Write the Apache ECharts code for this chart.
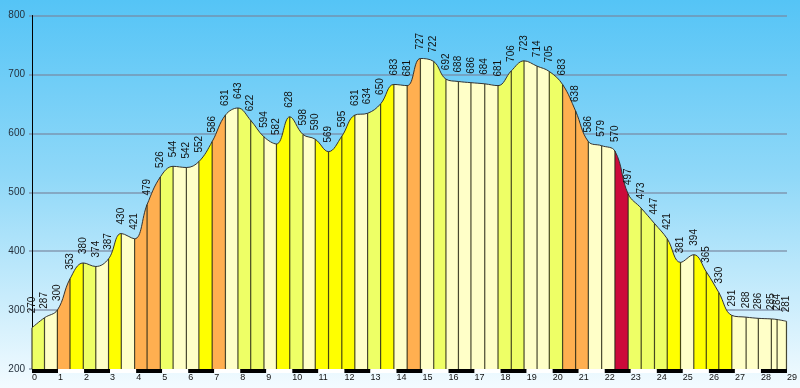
<!DOCTYPE html>
<html><head><meta charset="utf-8">
<script src="https://cdn.jsdelivr.net/npm/echarts@6/dist/echarts.min.js"></script>
<style>html,body{margin:0;padding:0;overflow:hidden;} #c{width:800px;height:388px;}</style>
</head><body><div id="c"></div>
<script>
// distance along the route (km) of each profile point
const distKm = [0,0.48,0.975,1.46,1.97,2.45,2.94,3.43,3.94,4.42,4.93,5.42,5.93,6.41,6.92,7.43,7.91,8.40,8.91,9.39,
  9.90,10.41,10.88,11.39,11.90,12.40,12.89,13.39,13.90,14.41,14.92,15.43,15.90,16.38,16.86,17.39,17.90,18.41,18.90,19.40,
  19.87,20.38,20.88,21.37,21.88,22.39,22.90,23.40,23.91,24.40,24.91,25.42,25.90,26.38,26.88,27.43,27.90,28.40,28.62,28.98];
// elevation (m) of each profile point
const elevation = [270,287,300,353,380,374,387,430,421,479,526,544,542,552,586,631,643,622,594,582,
  628,598,590,569,595,631,634,650,683,681,727,722,692,688,686,684,681,706,723,714,
  705,683,638,586,579,570,497,473,447,421,381,394,365,330,291,288,286,285,284,281];
// gradient class of each segment (0 flat .. 4 very steep)
const gradeClass = [1,0,3,2,1,0,2,0,3,3, 1,0,0,2,3,0,1,1,0,2, 1,0,2,2,2,0,1,2,0,3,
  0,1,0,0,0,0,1,1,0,0, 1,3,3,0,0,4,1,1,1,2, 0,2,2,2,0,0,0,0,0];
const gradePalette = ['#FFFFC8','#EEFF66','#FFFF00','#FFAF50','#CC0A3A'];
const yTicks = [200,300,400,500,600,700,800];
const xTicks = [0,1,2,3,4,5,6,7,8,9,10,11,12,13,14,15,16,17,18,19,20,21,22,23,24,25,26,27,28,29];

const yMin = yTicks[0], yMax = yTicks[yTicks.length-1];
const xMin = xTicks[0], xMax = xTicks[xTicks.length-1];
const points = distKm.map((d,i)=>[d, elevation[i]]);
const pieces = gradeClass.map((g,i)=>{
  const p = {lte: distKm[i+1], color: gradePalette[g]};
  if (i === 0) p.gte = distKm[i]; else p.gt = distKm[i];
  return p;
});
const barData = xTicks.slice(0, -1).map(k => [k]);
const GRID_LEFT = 32;

const chart = echarts.init(document.getElementById('c'), null, {renderer:'canvas'});
chart.setOption({
  animation: false,
  backgroundColor: {type:'linear', x:0, y:0, x2:0, y2:1, colorStops:[
    {offset:0, color:'#55C4F6'}, {offset:0.45, color:'#8FD8F8'}, {offset:1, color:'#F3FBFF'}]},
  grid: {left: GRID_LEFT, right: 7, top: 15.5, bottom: 19},
  xAxis: {
    type:'value', min:xMin, max:xMax, interval:1,
    axisLine:{show:false}, axisTick:{show:false}, splitLine:{show:false},
    axisLabel:{align:'left', margin:4, fontSize:9, color:'#111', fontFamily:'Liberation Sans', showMaxLabel:true}
  },
  yAxis: {
    type:'value', min:yMin, max:yMax, interval:100,
    axisLine:{show:true, lineStyle:{color:'#000', width:1}},
    axisTick:{show:true, length:3, lineStyle:{color:'rgba(120,135,160,0.6)', width:2}},
    splitLine:{show:true, lineStyle:{color:'rgba(120,135,160,0.6)', width:2}},
    axisLabel:{margin:7, fontSize:10, color:'#25313d', fontFamily:'Liberation Sans'}
  },
  visualMap: {
    type:'piecewise', show:false, dimension:0, seriesIndex:0, pieces: pieces,
    outOfRange:{color:gradePalette[0]}
  },
  series: [
    {
      type:'line', data: points, smooth: 0.4, symbol:'circle', symbolSize:0, showSymbol:true,
      lineStyle:{color:'#333', width:1},
      areaStyle:{opacity:1},
      z: 2,
      label:{show:true, position:'top', distance:9, rotate:90, align:'left', verticalAlign:'middle',
        fontSize:10, color:'#111', fontFamily:'Liberation Sans'},
      labelLayout(params){
        const r = params.labelRect;
        const minX = GRID_LEFT + 0.5;
        return r && r.x < minX ? {dx: minX - r.x} : {};
      }
    },
    {
      type:'custom', data: points, z: 3,
      renderItem(params, api){
        const top = api.coord([api.value(0), api.value(1)]);
        const bot = api.coord([api.value(0), yMin]);
        return {type:'line', shape:{x1:top[0], y1:top[1], x2:bot[0], y2:bot[1]},
          style:{stroke:'rgba(40,40,20,0.85)', lineWidth:1.2}};
      }
    },
    {
      type:'custom', data: barData, z: 4, clip:false,
      renderItem(params, api){
        const k = api.value(0);
        const p0 = api.coord([k, yMin]);
        const p1 = api.coord([k+1, yMin]);
        return {type:'rect', shape:{x:p0[0], y:p0[1], width:p1[0]-p0[0], height:4},
          style:{fill: (k % 2 === 0) ? '#000' : '#fff'}};
      }
    }
  ]
});
</script></body></html>
